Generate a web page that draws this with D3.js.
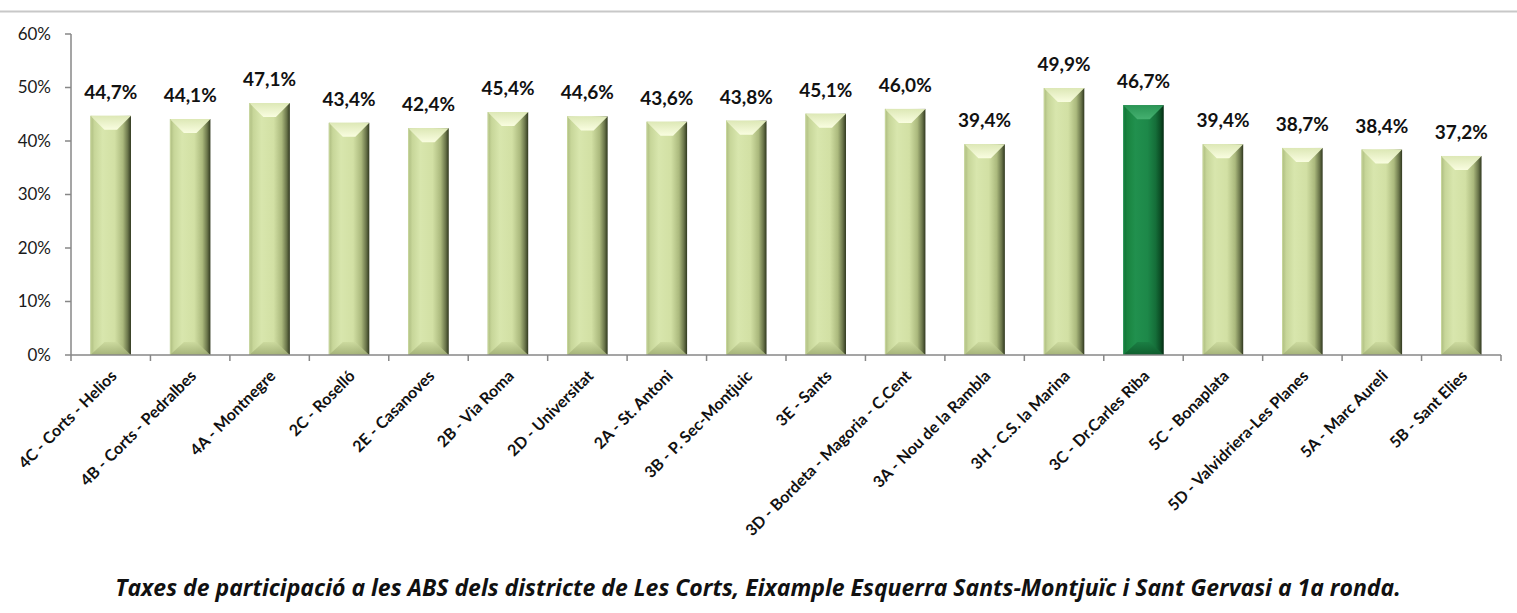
<!DOCTYPE html>
<html>
<head>
<meta charset="utf-8">
<script src="https://cdn.jsdelivr.net/npm/d3@7"></script>
<style>
  body { margin: 0; background: #fff; }
  svg { display: block; font-family: Lato, "Open Sans", sans-serif; }
</style>
</head>
<body>
<div id="chart"></div>
<script>
// data
const categories = [
  "4C - Corts - Helios", "4B - Corts - Pedralbes", "4A - Montnegre", "2C - Roselló",
  "2E - Casanoves", "2B - Via Roma", "2D - Universitat", "2A  - St. Antoni",
  "3B - P. Sec-Montjuic", "3E - Sants", "3D - Bordeta - Magoria - C.Cent",
  "3A - Nou de la Rambla", "3H - C.S. la Marina", "3C - Dr.Carles Riba",
  "5C - Bonaplata", "5D - Valvidriera-Les Planes", "5A - Marc Aureli", "5B - Sant Elies"
];
const values = [44.7, 44.1, 47.1, 43.4, 42.4, 45.4, 44.6, 43.6, 43.8, 45.1, 46.0, 39.4, 49.9, 46.7, 39.4, 38.7, 38.4, 37.2];
const highlight = "3C - Dr.Carles Riba";
const yTicks = [0, 10, 20, 30, 40, 50, 60];
const title = "Taxes de participació a les ABS dels districte de Les Corts, Eixample Esquerra Sants-Montjuïc i Sant Gervasi a 1a ronda.";

const W = 1517, H = 613;
const margin = {top: 34, left: 71, right: 16, bottom: 258};

const svg = d3.select("#chart").append("svg")
  .attr("width", W).attr("height", H);

svg.append("rect").attr("width", W).attr("height", H).attr("fill", "#fff");

// top frame line
svg.append("line")
  .attr("x1", 0).attr("x2", W).attr("y1", 11.5).attr("y2", 11.5)
  .attr("stroke", "#c8c8c8").attr("stroke-width", 2);

const x = d3.scaleBand()
  .domain(categories)
  .range([margin.left, W - margin.right])
  .paddingInner(0.49)
  .paddingOuter(0.245);

const y = d3.scaleLinear()
  .domain([0, 60])
  .range([H - margin.bottom, margin.top]);

// gradients
const defs = svg.append("defs");
function hGrad(id, stops) {
  const g = defs.append("linearGradient").attr("id", id)
    .attr("x1", "0%").attr("x2", "100%").attr("y1", "0%").attr("y2", "0%");
  stops.forEach(s => g.append("stop").attr("offset", s[0]).attr("stop-color", s[1]));
}
function vGrad(id, stops) {
  const g = defs.append("linearGradient").attr("id", id)
    .attr("x1", "0%").attr("x2", "0%").attr("y1", "0%").attr("y2", "100%");
  stops.forEach(s => g.append("stop").attr("offset", s[0]).attr("stop-color", s[1]));
}
hGrad("bodyLight", [["0%", "#abba7e"], ["10%", "#c7d699"], ["30%", "#d8e6ad"], ["60%", "#d2e0a4"], ["80%", "#abb97d"], ["92%", "#6b764b"], ["100%", "#30381f"]]);
vGrad("topLight", [["0%", "#dde8b6"], ["100%", "#f9fde0"]]);
vGrad("botLight", [["0%", "#cbd99d"], ["100%", "#a0ae74"]]);
hGrad("bodyDark", [["0%", "#0f6f36"], ["10%", "#19843f"], ["30%", "#21904e"], ["60%", "#1d8849"], ["80%", "#156e39"], ["92%", "#0c4d25"], ["100%", "#042b13"]]);
vGrad("topDark", [["0%", "#2a9555"], ["100%", "#45b070"]]);
vGrad("botDark", [["0%", "#1a7d43"], ["100%", "#0e5a2b"]]);

// y axis
const yAxis = svg.append("g");
yAxis.append("line")
  .attr("x1", margin.left).attr("x2", margin.left)
  .attr("y1", y(60)).attr("y2", y(0))
  .attr("stroke", "#878787").attr("stroke-width", 1.5);
yAxis.selectAll(".yt").data(yTicks).join("line")
  .attr("x1", margin.left - 6).attr("x2", margin.left)
  .attr("y1", d => y(d)).attr("y2", d => y(d))
  .attr("stroke", "#878787").attr("stroke-width", 1.5);
yAxis.selectAll(".yl").data(yTicks).join("text")
  .attr("x", margin.left - 20).attr("y", d => y(d))
  .attr("dy", "0.35em")
  .attr("text-anchor", "end")
  .attr("font-size", 17)
  .attr("fill", "#1a1a1a")
  .text(d => d + "%");

// bars
const b = 14;
const bars = svg.append("g").selectAll("g").data(categories).join("g");
bars.each(function(c, i) {
  const g = d3.select(this);
  const dark = c === highlight;
  const x0 = x(c), w = x.bandwidth();
  const yt = y(values[i]), yb = y(0);
  g.append("rect")
    .attr("x", x0).attr("y", yt).attr("width", w).attr("height", yb - yt)
    .attr("fill", dark ? "url(#bodyDark)" : "url(#bodyLight)");
  g.append("polygon")
    .attr("points", [[x0, yt], [x0 + w, yt], [x0 + w - b, yt + b], [x0 + b, yt + b]].map(p => p.join(",")).join(" "))
    .attr("fill", dark ? "url(#topDark)" : "url(#topLight)");
  g.append("polygon")
    .attr("points", [[x0, yb], [x0 + w, yb], [x0 + w - b, yb - b + 1], [x0 + b, yb - b + 1]].map(p => p.join(",")).join(" "))
    .attr("fill", dark ? "url(#botDark)" : "url(#botLight)")
    .attr("opacity", 0.9);
  // light left edge line
  g.append("line")
    .attr("x1", x0 + 0.5).attr("x2", x0 + 0.5).attr("y1", yt).attr("y2", yb)
    .attr("stroke", dark ? "#2a9958" : "#c8d79b").attr("stroke-width", 1);
});

// value labels
svg.append("g").selectAll("text").data(categories).join("text")
  .attr("x", c => x(c) + x.bandwidth() / 2)
  .attr("y", (c, i) => y(values[i]) - 17)
  .attr("text-anchor", "middle")
  .attr("font-size", 19)
  .attr("font-weight", "bold")
  .attr("fill", "#111")
  .text((c, i) => values[i].toFixed(1).replace(".", ",") + "%");

// x axis
const step = x.step();
const xAxis = svg.append("g");
xAxis.append("line")
  .attr("x1", margin.left).attr("x2", W - margin.right)
  .attr("y1", y(0)).attr("y2", y(0))
  .attr("stroke", "#878787").attr("stroke-width", 1.5);
xAxis.selectAll(".xt").data(d3.range(categories.length + 1)).join("line")
  .attr("x1", i => margin.left + i * step).attr("x2", i => margin.left + i * step)
  .attr("y1", y(0)).attr("y2", y(0) + 6)
  .attr("stroke", "#878787").attr("stroke-width", 1.5);
xAxis.selectAll("text").data(categories).join("text")
  .attr("transform", c => `translate(${x(c) + x.bandwidth() / 2 + 7},${y(0) + 22}) rotate(-45)`)
  .attr("text-anchor", "end")
  .attr("font-size", 16)
  .attr("font-weight", "bold")
  .attr("fill", "#111")
  .text(c => c);

// caption
svg.append("text")
  .attr("x", 758).attr("y", 596)
  .attr("text-anchor", "middle")
  .attr("font-family", "'Open Sans', sans-serif")
  .attr("font-size", 23)
  .attr("font-weight", "bold")
  .attr("font-style", "italic")
  .attr("fill", "#111")
  .text(title);
</script>
</body>
</html>
